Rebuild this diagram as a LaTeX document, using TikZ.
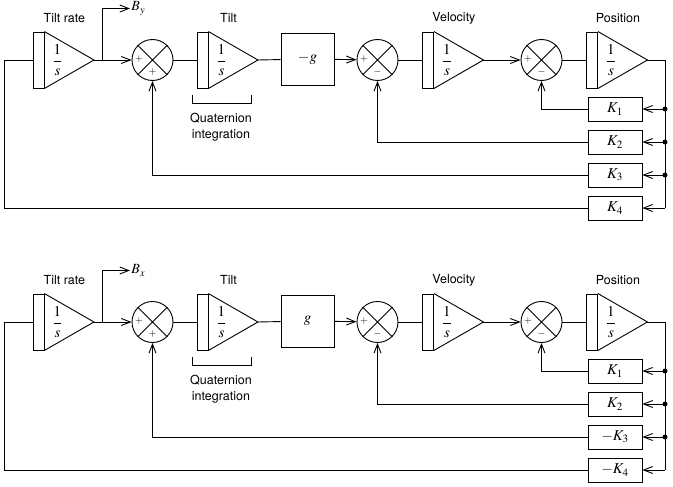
\documentclass[tikz,border=0pt]{standalone}
\usepackage{mathptmx}
\usepackage{fontspec}
\setmainfont{TeX Gyre Heros}
\usetikzlibrary{arrows.meta,calc,positioning}

\begin{document}
\begin{tikzpicture}[x=1pt,y=-1pt,
    line width=0.9pt,
    every node/.style={font=\fontsize{12.5}{16}\selectfont},
    mathtext/.style={font=\fontsize{15}{18}\selectfont},
    bar/.style={draw,minimum width=11pt,minimum height=56pt,inner sep=0pt},
    gainbox/.style={draw,mathtext,minimum width=54pt,minimum height=24pt,inner sep=0pt},
    sumnode/.style={draw,circle,minimum size=41pt,inner sep=0pt},
    sign/.style={font=\fontsize{10}{10}\selectfont,inner sep=0pt},
    arrow/.style={-{Straight Barb[length=9pt,width=7pt]}},
    tap/.style={circle,fill,inner sep=0pt,minimum size=5pt}
  ]
  \useasboundingbox (0,0) rectangle (673,487);
  \foreach \ax/\oy/\gain/\kthree/\kfour in {y/0/{-g}/{K_3}/{K_4},x/262/{g}/{-K_3}/{-K_4}}{
  \begin{scope}[yshift=-\oy pt]
    % integrators
    \foreach \n/\xb/\lbl in {rate/38.5/Tilt rate,tilt/202.5/Tilt,vel/428/Velocity,pos/592/Position}{
      \node[bar] (\ax\n) at (\xb,60) {};
      \draw (\ax\n.north east) -- ($(\ax\n.east)+(49.5,0)$) coordinate (\ax\n-o) -- (\ax\n.south east);
      \node[mathtext] (\ax\n-f) at ($(\ax\n.east)+(13,0)$) {$\displaystyle\frac{1}{s}$};
      \node (\ax\n-l) at ($(\ax\n.east)+(20,-42)$) {\lbl};
    }
    % summing junctions
    \foreach \n/\xs/\sgn in {s1/152.5/+,s2/377.5/-,s3/541.5/-}{
      \node[sumnode] (\ax\n) at (\xs,60) {};
      \draw (\ax\n.north west) -- (\ax\n.south east) (\ax\n.north east) -- (\ax\n.south west);
      \node[sign] (\ax\n-a) at ($(\ax\n)+(-13.5,-1)$) {$+$};
      \node[sign] (\ax\n-b) at ($(\ax\n)+(0,12)$) {$\sgn$};
    }
    \node[draw,mathtext,minimum width=53pt,minimum height=52pt] (\ax g) at (307.5,59) {$\gain$};
    % feedback gains
    \foreach \n/\yk/\kk in {1/109/K_1,2/142/K_2,3/175/\kthree,4/208/\kfour}{
      \node[gainbox] (\ax k\n) at (615,\yk) {$\kk$};
      \coordinate (\ax t\n) at (665,\yk);
      \draw[arrow] (\ax t\n) -- (\ax k\n);
    }
    \foreach \n in {1,2,3}
      \node[tap] (\ax d\n) at (\ax t\n) {};
    % forward path
    \draw[arrow] (\ax rate-o) -- (\ax s1);
    \draw (\ax s1) -- (\ax tilt);
    \draw (\ax tilt-o) -- (\ax g);
    \draw[arrow] (\ax g) -- (\ax s2);
    \draw (\ax s2) -- (\ax vel);
    \draw[arrow] (\ax vel-o) -- (\ax s3);
    \draw (\ax s3) -- (\ax pos);
    \draw (\ax pos-o) -| (\ax t4);
    % feedback paths
    \draw[arrow] (\ax k1) -| (\ax s3);
    \draw[arrow] (\ax k2) -| (\ax s2);
    \draw[arrow] (\ax k3) -| (\ax s1);
    \coordinate (\ax lp) at (4,208);
    \draw (\ax k4) -- (\ax lp) |- (\ax rate);
    % body rate output
    \coordinate (\ax br) at (102,60);
    \node[font=\fontsize{14}{16}\selectfont,anchor=west,inner sep=1pt] (\ax b) at (130,8.5) {$B_\ax$};
    \draw[arrow] (\ax br) |- (\ax b);
    % quaternion bracket
    \draw (192,95) -- (192,103) -- (251,103) -- (251,95);
    \node[align=center] (\ax q) at (221,127.5) {Quaternion\\integration};
  \end{scope}
  }
\end{tikzpicture}
\end{document}
